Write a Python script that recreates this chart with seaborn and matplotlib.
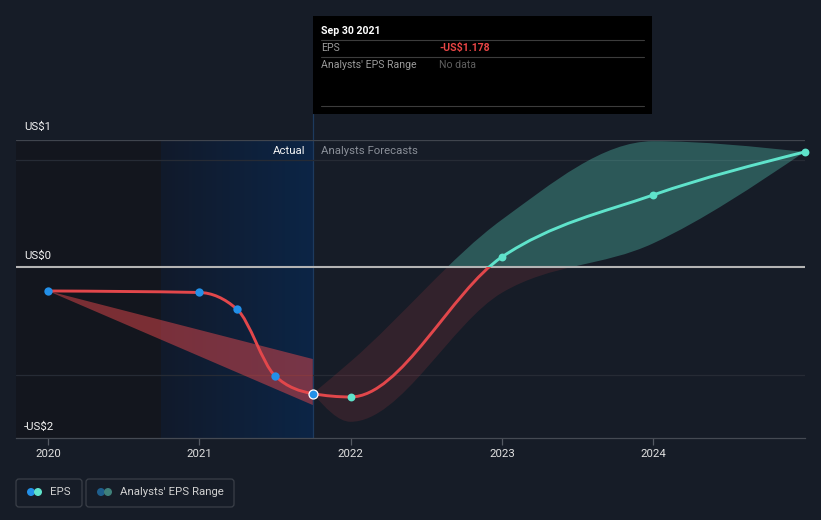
import numpy as np
import pandas as pd
import matplotlib
matplotlib.use("Agg")
import matplotlib.pyplot as plt
import seaborn as sns
from matplotlib.path import Path
from matplotlib.patches import PathPatch, Rectangle, FancyBboxPatch, Circle
from matplotlib.colors import LinearSegmentedColormap

# ---- data (EPS, US$) ----
actual_x = [2020.0, 2021.0, 2021.25, 2021.5, 2021.75]
actual_eps = [-0.223, -0.237, -0.394, -1.012, -1.178]

forecast_x = [2022.0, 2023.0, 2024.0, 2025.0]
forecast_eps = [-1.209, 0.093, 0.670, 1.070]

# analysts' range, past part (triangle) and forecast band
past_range_x = [2020.0, 2021.75]
past_range_low = [-0.223, -1.284]
past_range_high = [-0.223, -0.856]

range_x = [2021.75, 2022.0, 2023.0, 2024.0, 2025.0]
range_low = [-1.178, -1.44, -0.24, 0.22, 1.07]
range_high = [-1.178, -0.88, 0.44, 1.17, 1.07]

year_ticks = [2020, 2021, 2022, 2023, 2024]
y_label_text = ["US$1", "US$0", "-US$2"]

# ---- colours ----
BG = "#161c27"
RED = "#e2474b"
TEAL = "#5fe3cb"
BLUE = "#2390e8"

W, H = 821, 520


def monotone_path(xs, ys):
    """Bezier path through the points, like d3.curveMonotoneX."""
    x = np.asarray(xs, float)
    y = np.asarray(ys, float)
    n = len(x)
    h = np.diff(x)
    s = np.diff(y) / h
    t = np.zeros(n)
    if n > 2:
        for i in range(1, n - 1):
            p = (s[i - 1] * h[i] + s[i] * h[i - 1]) / (h[i - 1] + h[i])
            t[i] = (np.sign(s[i - 1]) + np.sign(s[i])) * min(abs(s[i - 1]), abs(s[i]), 0.5 * abs(p))
        t[0] = (3 * s[0] - t[1]) / 2
        t[-1] = (3 * s[-1] - t[-2]) / 2
    else:
        t[:] = s[0]
    verts = [(x[0], y[0])]
    codes = [Path.MOVETO]
    for i in range(n - 1):
        d = h[i] / 3
        verts += [(x[i] + d, y[i] + d * t[i]), (x[i + 1] - d, y[i + 1] - d * t[i + 1]), (x[i + 1], y[i + 1])]
        codes += [Path.CURVE4] * 3
    return verts, codes


def band_path(xs, low, high):
    hv, hc = monotone_path(xs, high)
    lv, lc = monotone_path(xs, low)
    verts = hv + lv[::-1] + [hv[0]]
    codes = hc + [Path.LINETO] + [Path.CURVE4] * (len(lv) - 1) + [Path.CLOSEPOLY]
    return Path(verts, codes)


sns.set_style("dark")
plt.rcParams["font.family"] = ["Roboto", "DejaVu Sans"]

fig = plt.figure(figsize=(W / 100, H / 100), dpi=100, facecolor=BG)
ax = fig.add_axes([16 / W, (H - 438) / H, 789 / W, 298 / H])
ax.set_facecolor(BG)

# pixel mapping: 2020 -> x=48, 151.3 px/year ; 0 -> y=267, 107.5 px/unit
x0, x1 = 2020 - 32 / 151.3, 2020 + 757 / 151.3
y0, y1 = (267 - 438) / 107.5, (267 - 140) / 107.5

# shaded history regions
ax.axvspan(x0, 2020.75, color="#13161e", zorder=0, lw=0)
cmap = LinearSegmentedColormap.from_list("blu", ["#111a2b", "#0c2546"])
ax.imshow(np.linspace(0, 1, 512).reshape(1, -1), cmap=cmap, aspect="auto",
          interpolation="bilinear", extent=[2020.75, 2021.75, y0, y1], zorder=0.5)
ax.set_xlim(x0, x1)
ax.set_ylim(y0, y1)
ax.plot([2021.75, 2021.75], [y0, (267 - 114) / 107.5], color="#1d3a5e", lw=0.9,
        clip_on=False, zorder=1)

# grid lines
ax.axhline(y1, color="#40454e", lw=0.9, zorder=1)
for g in (1.0, -1.0):
    ax.axhline(g, color="#262b35", lw=0.9, zorder=1)

clip_hi = Rectangle((x0, 0), x1 - x0, 10, transform=ax.transData)
clip_lo = Rectangle((x0, -10), x1 - x0, 10, transform=ax.transData)

# analysts' range
past = band_path(past_range_x, past_range_low, past_range_high)
ax.add_patch(PathPatch(past, facecolor=RED, alpha=0.5, lw=0, zorder=2))
band = band_path(range_x, range_low, range_high)
p_hi = ax.add_patch(PathPatch(band, facecolor=TEAL, alpha=0.3, lw=0, zorder=2))
p_hi.set_clip_path(clip_hi)
p_lo = ax.add_patch(PathPatch(band, facecolor=RED, alpha=0.14, lw=0, zorder=2))
p_lo.set_clip_path(clip_lo)

ax.axhline(0, color="#b4b4b4", lw=1.5, zorder=3)

# EPS line
lv, lc = monotone_path(actual_x + forecast_x, actual_eps + forecast_eps)
line = Path(lv, lc)
l_hi = ax.add_patch(PathPatch(line, fill=False, edgecolor=TEAL, lw=2.1, zorder=4))
l_hi.set_clip_path(clip_hi)
l_lo = ax.add_patch(PathPatch(line, fill=False, edgecolor=RED, lw=2.1, zorder=4))
l_lo.set_clip_path(clip_lo)

df_act = pd.DataFrame({"year": actual_x, "eps": actual_eps})
df_fc = pd.DataFrame({"year": forecast_x, "eps": forecast_eps})
sns.scatterplot(data=df_act.iloc[:-1], x="year", y="eps", color=BLUE, s=36,
                linewidth=0, ax=ax, zorder=5, clip_on=False)
sns.scatterplot(data=df_act.iloc[-1:], x="year", y="eps", color=BLUE, s=42,
                edgecolor="white", linewidth=0.9, ax=ax, zorder=6, clip_on=False)
sns.scatterplot(data=df_fc, x="year", y="eps", color=TEAL, s=32,
                linewidth=0, ax=ax, zorder=5, clip_on=False)

# axes styling
ax.set_xlabel("")
ax.set_ylabel("")
ax.set_yticks([])
ax.set_xticks(year_ticks)
ax.set_xticklabels([str(y) for y in year_ticks])
ax.tick_params(axis="x", colors="#555a63", length=5, width=0.9, pad=3,
               labelcolor="#e0e0e0", labelsize=8.2, bottom=True)
for side in ("top", "left", "right"):
    ax.spines[side].set_visible(False)
ax.spines["bottom"].set_color("#454a53")
ax.spines["bottom"].set_linewidth(0.9)
ax.grid(False)


def px(x, y):
    return x / W, 1 - y / H


# y value labels
for lab, ypix in zip(y_label_text, [127, 256, 427]):
    fig.text(*px(24, ypix), lab, color="#f2f2f2", fontsize=8.2, va="center", ha="left")

fig.text(*px(305, 151), "Actual", color="#f2f2f2", fontsize=8.2, va="center", ha="right")
fig.text(*px(321, 151), "Analysts Forecasts", color="#8a8f98", fontsize=8.2, va="center", ha="left")

# tooltip box
ov = fig.add_axes([0, 0, 1, 1], facecolor="none")
ov.set_xlim(0, W)
ov.set_ylim(H, 0)
ov.axis("off")
ov.add_patch(Rectangle((313, 16), 339, 98, facecolor="black", lw=0))
for yy in (40, 57, 106):
    ov.plot([321, 644], [yy, yy], color="#3c3c3c", lw=0.8)
ov.text(321, 31, "Sep 30 2021", color="white", fontsize=7.6, fontweight="bold", va="center")
ov.text(321, 48, "EPS", color="#9a9a9a", fontsize=7.6, va="center")
ov.text(439, 48, "-US$1.178", color="#e84545", fontsize=7.6, fontweight="bold", va="center")
ov.text(321, 65, "Analysts' EPS Range", color="#9a9a9a", fontsize=7.6, va="center")
ov.text(439, 65, "No data", color="#5f5f5f", fontsize=7.6, va="center")

# legend
ov.add_patch(FancyBboxPatch((16, 479), 66, 28, boxstyle="round,pad=0,rounding_size=3",
                            facecolor="none", edgecolor="#3a3f48", lw=0.9))
ov.add_patch(FancyBboxPatch((86, 479), 148, 28, boxstyle="round,pad=0,rounding_size=3",
                            facecolor="none", edgecolor="#3a3f48", lw=0.9))
ov.add_patch(Circle((31, 492), 4, color=BLUE, lw=0))
ov.add_patch(Circle((38, 492), 4, color=TEAL, lw=0))
ov.add_patch(Circle((101, 492), 4, color="#1e5e8c", lw=0))
ov.add_patch(Circle((108, 492), 4, color="#3f807a", lw=0))
ov.text(50, 492, "EPS", color="#d0d0d0", fontsize=8.2, va="center")
ov.text(120, 492, "Analysts' EPS Range", color="#d0d0d0", fontsize=8.2, va="center")

fig.savefig("out.png", dpi=100, facecolor=BG)
